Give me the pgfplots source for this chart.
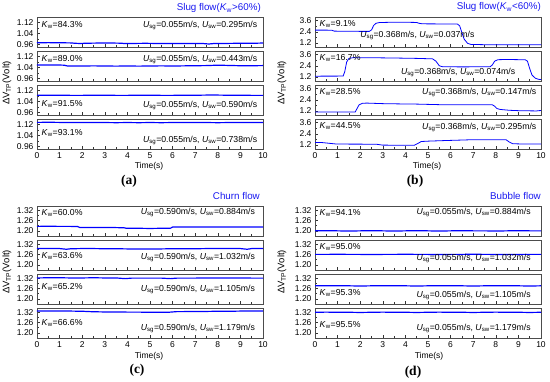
\documentclass[border=0pt]{standalone}
\usepackage{fontspec}
\setmainfont{Liberation Sans}
\newfontfamily\serifbf{Liberation Serif}
\usepackage{pgfplots}
\pgfplotsset{compat=1.18}
\definecolor{lineA}{RGB}{55,55,225}
\definecolor{lineB}{RGB}{115,115,250}
\definecolor{titleC}{RGB}{25,25,240}
\newcommand{\Kw}[1]{\textit{K}\textsubscript{w}=#1\%}
\newcommand{\Uu}[2]{\textit{U}\textsubscript{sg}=#1m/s, \textit{U}\textsubscript{sw}=#2m/s}
\tikzset{annot/.style={font=\fontsize{8.7}{9}\selectfont, inner sep=0pt}}
\pgfplotsset{
 base/.style={scale only axis, width=226pt, height=30pt, xmin=0, xmax=10,
   xtick={0,1,...,10}, minor x tick num=1, xticklabels={},
   tick align=inside, xtick pos=bottom, ytick pos=left,
   axis line style={draw=black!70, line width=0.9pt},
   tick style={black!80, line width=0.5pt},
   major tick length=3pt, minor tick length=1.8pt,
   tick label style={font=\fontsize{8.5}{9}\selectfont},
   anchor=north west, no markers,
   every axis plot/.append style={line width=1.2pt, color=lineA, mark=none}},
 last/.style={xticklabels={0,1,2,3,4,5,6,7,8,9,10}},
 pa/.style={base, ymin=0.94, ymax=1.16, ytick={0.96,1.04,1.12}, yticklabels={0.96,1.04,1.12}, minor y tick num=1},
 pb/.style={base, ymin=0.75, ymax=4.0, ytick={1.2,2.4,3.6}, yticklabels={1.2,2.4,3.6}, minor y tick num=1,
   every axis plot/.append style={line width=0.8pt, color=lineB}},
 pc/.style={base, ymin=1.17, ymax=1.345, ytick={1.20,1.26,1.32}, yticklabels={1.20,1.26,1.32}, minor y tick num=1},
}
\begin{document}
\begin{tikzpicture}[x=1pt,y=1pt]
\path[use as bounding box] (0,0) rectangle (550,381);

% ---------------- (a) ----------------
\begin{axis}[pa, at={(37pt,364pt)}]
\addplot coordinates {(0,0.971)(0.5,0.972)(1,0.971)(1.5,0.970)(1.7,0.967)(1.9,0.966)(2.3,0.968)(2.8,0.969)(3.3,0.969)(3.7,0.968)(3.9,0.965)(4.2,0.966)(4.8,0.967)(5.3,0.966)(5.8,0.965)(6.3,0.965)(6.8,0.966)(7.3,0.966)(7.6,0.962)(7.8,0.965)(8.3,0.966)(8.8,0.967)(9.3,0.967)(9.7,0.968)(10,0.969)};
\node[annot, anchor=west] at (rel axis cs:0.02,0.72) {\Kw{84.3}};
\node[annot, anchor=east] at (rel axis cs:0.975,0.72) {\Uu{0.055}{0.295}};
\end{axis}
\begin{axis}[pa, at={(37pt,330pt)}]
\addplot coordinates {(0,1.058)(0.5,1.058)(1,1.057)(1.2,1.056)(1.35,1.050)(2,1.050)(2.5,1.051)(3,1.050)(3.5,1.049)(4,1.050)(4.5,1.049)(5,1.050)(5.5,1.051)(6,1.050)(6.5,1.051)(7,1.052)(7.5,1.053)(8,1.056)(8.5,1.054)(9,1.052)(9.5,1.052)(10,1.053)};
\node[annot, anchor=west] at (rel axis cs:0.02,0.72) {\Kw{89.0}};
\node[annot, anchor=east] at (rel axis cs:0.975,0.72) {\Uu{0.055}{0.443}};
\end{axis}
\begin{axis}[pa, at={(37pt,296pt)}]
\addplot coordinates {(0,1.084)(0.5,1.085)(1,1.085)(1.5,1.084)(2,1.084)(2.5,1.085)(3,1.085)(3.5,1.084)(4,1.084)(4.5,1.085)(5,1.085)(5.5,1.084)(6,1.084)(6.5,1.085)(7,1.085)(7.5,1.086)(8,1.086)(8.5,1.085)(9,1.085)(9.5,1.084)(10,1.084)};
\node[annot, anchor=west] at (rel axis cs:0.02,0.37) {\Kw{91.5}};
\node[annot, anchor=east] at (rel axis cs:0.975,0.31) {\Uu{0.055}{0.590}};
\end{axis}
\begin{axis}[pa, last, at={(37pt,262pt)}]
\addplot coordinates {(0,1.135)(0.5,1.136)(1,1.135)(1.5,1.134)(2,1.135)(2.5,1.134)(3,1.134)(3.5,1.133)(4,1.134)(4.5,1.133)(5,1.134)(5.5,1.133)(6,1.134)(6.5,1.134)(7,1.135)(7.5,1.134)(8,1.133)(8.5,1.134)(9,1.134)(9.5,1.135)(10,1.135)};
\node[annot, anchor=west] at (rel axis cs:0.02,0.53) {\Kw{93.1}};
\node[annot, anchor=east] at (rel axis cs:0.975,0.30) {\Uu{0.055}{0.738}};
\end{axis}

% ---------------- (b) ----------------
\begin{axis}[pb, at={(315pt,364pt)}]
\addplot coordinates {(0,2.58)(0.5,2.58)(0.75,2.56)(0.85,2.47)(1.5,2.45)(2.4,2.44)(2.5,2.6)(2.6,3.1)(2.7,3.32)(2.85,3.40)(3.2,3.42)(4,3.43)(4.5,3.41)(4.6,3.32)(4.75,3.26)(5.5,3.25)(6.3,3.24)(6.4,3.05)(6.5,2.3)(6.6,1.6)(6.75,1.15)(6.9,1.03)(7.5,1.0)(8.5,1.0)(10,1.0)};
\node[annot, anchor=west] at (rel axis cs:0.02,0.78) {\Kw{9.1}};
\node[annot, anchor=west] at (rel axis cs:0.2,0.37) {\Uu{0.368}{0.037}};
\end{axis}
\begin{axis}[pb, at={(315pt,330pt)}]
\addplot coordinates {(0,1.27)(0.5,1.28)(1,1.28)(1.25,1.30)(1.32,1.8)(1.4,2.8)(1.5,3.2)(1.7,3.28)(2.5,3.27)(3.5,3.24)(4.5,3.2)(5.2,3.15)(5.35,2.9)(5.5,2.4)(5.65,2.29)(6.5,2.28)(7.75,2.29)(7.85,2.5)(7.95,2.9)(8.1,3.06)(8.5,3.08)(9.3,3.05)(9.4,2.9)(9.5,2.1)(9.6,1.4)(9.75,1.05)(9.9,0.93)(10,0.9)};
\node[annot, anchor=west] at (rel axis cs:0.02,0.78) {\Kw{16.7}};
\node[annot, anchor=west] at (rel axis cs:0.38,0.28) {\Uu{0.368}{0.074}};
\end{axis}
\begin{axis}[pb, at={(315pt,296pt)}]
\addplot coordinates {(0,1.08)(0.5,1.07)(1,1.07)(1.5,1.07)(1.78,1.08)(1.85,1.4)(1.95,1.85)(2.1,2.02)(2.3,2.04)(3,1.98)(3.8,1.95)(4.5,1.93)(5.5,1.87)(6.5,1.86)(7.85,1.85)(7.95,1.7)(8.05,1.45)(8.2,1.35)(8.6,1.26)(9,1.22)(9.5,1.2)(9.8,1.19)(10,1.24)};
\node[annot, anchor=west] at (rel axis cs:0.02,0.78) {\Kw{28.5}};
\node[annot, anchor=east] at (rel axis cs:0.98,0.76) {\Uu{0.368}{0.147}};
\end{axis}
\begin{axis}[pb, last, at={(315pt,262pt)}]
\addplot coordinates {(0,1.46)(0.3,1.45)(0.5,1.40)(0.9,1.30)(1.5,1.28)(2.7,1.27)(3,1.17)(3.7,1.16)(4.4,1.16)(4.55,1.35)(4.7,1.56)(5,1.60)(5.7,1.66)(6.5,1.72)(7,1.76)(8.45,1.76)(8.6,1.5)(8.75,1.32)(9.2,1.29)(10,1.29)};
\node[annot, anchor=west] at (rel axis cs:0.02,0.78) {\Kw{44.5}};
\node[annot, anchor=east] at (rel axis cs:0.98,0.72) {\Uu{0.368}{0.295}};
\end{axis}

% ---------------- (c) ----------------
\begin{axis}[pc, at={(37pt,175pt)}]
\addplot coordinates {(0,1.226)(0.5,1.227)(1,1.226)(1.5,1.226)(1.8,1.225)(1.9,1.219)(2.5,1.219)(3,1.220)(3.5,1.219)(3.85,1.218)(3.95,1.215)(4.5,1.215)(5,1.214)(5.5,1.215)(5.9,1.215)(6.0,1.222)(6.5,1.222)(7,1.223)(7.5,1.223)(8,1.222)(8.5,1.223)(9,1.223)(9.5,1.222)(10,1.223)};
\node[annot, anchor=west] at (rel axis cs:0.02,0.77) {\Kw{60.0}};
\node[annot, anchor=east] at (rel axis cs:0.965,0.77) {\Uu{0.590}{0.884}};
\end{axis}
\begin{axis}[pc, at={(37pt,141pt)}]
\addplot coordinates {(0,1.295)(0.5,1.296)(1,1.295)(1.3,1.291)(1.5,1.294)(2,1.295)(2.5,1.295)(3,1.294)(3.5,1.294)(4,1.293)(4.5,1.292)(5,1.293)(5.5,1.293)(6,1.294)(6.5,1.294)(7,1.294)(7.5,1.295)(8,1.295)(8.5,1.295)(9,1.295)(9.3,1.291)(9.5,1.295)(10,1.295)};
\node[annot, anchor=west] at (rel axis cs:0.02,0.47) {\Kw{63.6}};
\node[annot, anchor=east] at (rel axis cs:0.965,0.41) {\Uu{0.590}{1.032}};
\end{axis}
\begin{axis}[pc, at={(37pt,107pt)}]
\addplot coordinates {(0,1.322)(0.5,1.323)(1,1.323)(1.5,1.322)(2,1.322)(2.5,1.323)(3,1.322)(3.5,1.322)(3.9,1.318)(4.2,1.321)(4.5,1.321)(5,1.321)(5.5,1.321)(5.9,1.318)(6.2,1.321)(6.5,1.321)(7,1.321)(7.5,1.322)(8,1.322)(8.5,1.322)(9,1.322)(9.5,1.321)(10,1.321)};
\node[annot, anchor=west] at (rel axis cs:0.02,0.56) {\Kw{65.2}};
\node[annot, anchor=east] at (rel axis cs:0.965,0.48) {\Uu{0.590}{1.105}};
\end{axis}
\begin{axis}[pc, last, at={(37pt,73pt)}]
\addplot coordinates {(0,1.327)(0.5,1.327)(1,1.327)(1.5,1.327)(2,1.326)(2.5,1.323)(3,1.322)(3.5,1.322)(4,1.321)(4.5,1.321)(5,1.320)(5.5,1.320)(5.8,1.320)(6.2,1.324)(6.5,1.324)(7,1.325)(7.5,1.325)(8,1.326)(8.5,1.326)(9,1.327)(9.5,1.327)(10,1.328)};
\node[annot, anchor=west] at (rel axis cs:0.02,0.51) {\Kw{66.6}};
\node[annot, anchor=east] at (rel axis cs:0.965,0.32) {\Uu{0.590}{1.179}};
\end{axis}

% ---------------- (d) ----------------
\begin{axis}[pc, at={(315pt,175pt)}]
\addplot coordinates {(0,1.200)(0.5,1.201)(1,1.200)(1.5,1.199)(2,1.200)(2.5,1.201)(3,1.200)(3.5,1.199)(4,1.200)(4.5,1.201)(5,1.200)(5.5,1.199)(6,1.200)(6.5,1.201)(7,1.200)(7.5,1.200)(8,1.199)(8.5,1.200)(9,1.201)(9.5,1.200)(10,1.200)};
\node[annot, anchor=west] at (rel axis cs:0.02,0.78) {\Kw{94.1}};
\node[annot, anchor=east] at (rel axis cs:0.955,0.78) {\Uu{0.055}{0.884}};
\end{axis}
\begin{axis}[pc, at={(315pt,141pt)}]
\addplot coordinates {(0,1.261)(0.5,1.261)(1,1.262)(1.5,1.261)(2,1.261)(2.5,1.260)(3,1.261)(3.5,1.261)(4,1.262)(4.5,1.261)(5,1.261)(5.5,1.260)(6,1.261)(6.5,1.261)(7,1.262)(7.5,1.261)(8,1.261)(8.5,1.260)(9,1.261)(9.5,1.261)(10,1.261)};
\node[annot, anchor=west] at (rel axis cs:0.02,0.78) {\Kw{95.0}};
\node[annot, anchor=east] at (rel axis cs:0.955,0.38) {\Uu{0.055}{1.032}};
\end{axis}
\begin{axis}[pc, at={(315pt,107pt)}]
\addplot coordinates {(0,1.276)(0.5,1.277)(1,1.276)(1.5,1.276)(2,1.275)(2.5,1.276)(3,1.277)(3.5,1.276)(4,1.276)(4.5,1.275)(5,1.276)(5.5,1.277)(6,1.276)(6.5,1.276)(7,1.275)(7.5,1.276)(8,1.277)(8.5,1.276)(9,1.276)(9.5,1.275)(10,1.276)};
\node[annot, anchor=west] at (rel axis cs:0.02,0.36) {\Kw{95.3}};
\node[annot, anchor=east] at (rel axis cs:0.955,0.30) {\Uu{0.055}{1.105}};
\end{axis}
\begin{axis}[pc, last, at={(315pt,73pt)}]
\addplot coordinates {(0,1.320)(0.5,1.321)(1,1.320)(1.5,1.320)(2,1.319)(2.5,1.320)(3,1.321)(3.5,1.320)(4,1.320)(4.5,1.319)(5,1.320)(5.5,1.321)(6,1.320)(6.5,1.320)(7,1.319)(7.5,1.320)(8,1.321)(8.5,1.320)(9,1.320)(9.5,1.319)(10,1.320)};
\node[annot, anchor=west] at (rel axis cs:0.02,0.43) {\Kw{95.5}};
\node[annot, anchor=east] at (rel axis cs:0.955,0.32) {\Uu{0.055}{1.179}};
\end{axis}

% ---------------- titles, labels ----------------
\begin{scope}[every node/.style={inner sep=0pt}]
\node[anchor=east, text=titleC, font=\fontsize{9.8}{10}\selectfont] at (261,373) {Slug flow(\textit{K}\textsubscript{w}>60\%)};
\node[anchor=east, text=titleC, font=\fontsize{9.8}{10}\selectfont] at (541,374) {Slug flow(\textit{K}\textsubscript{w}<60\%)};
\node[anchor=east, text=titleC, font=\fontsize{9.8}{10}\selectfont] at (260,185) {Churn flow};
\node[anchor=east, text=titleC, font=\fontsize{9.8}{10}\selectfont] at (541,185) {Bubble flow};
\foreach \xx/\yy in {7/298, 282/298, 7/109, 282/109}
  \node[rotate=90, font=\fontsize{9.5}{10}\selectfont] at (\xx,\yy) {ΔV\textsubscript{TP}(Volt)};
\node[font=\fontsize{8.5}{9}\selectfont] at (149,215) {Time(s)};
\node[font=\fontsize{8.5}{9}\selectfont] at (427,215) {Time(s)};
\node[font=\fontsize{8.5}{9}\selectfont] at (149,25) {Time(s)};
\node[font=\fontsize{8.5}{9}\selectfont] at (429,25) {Time(s)};
\node[font=\serifbf\bfseries\fontsize{13.5}{14}\selectfont] at (129,200) {(a)};
\node[font=\serifbf\bfseries\fontsize{13.5}{14}\selectfont] at (415,200) {(b)};
\node[font=\serifbf\bfseries\fontsize{13.5}{14}\selectfont] at (137,11) {(c)};
\node[font=\serifbf\bfseries\fontsize{13.5}{14}\selectfont] at (413,9) {(d)};
\end{scope}
\end{tikzpicture}
\end{document}
